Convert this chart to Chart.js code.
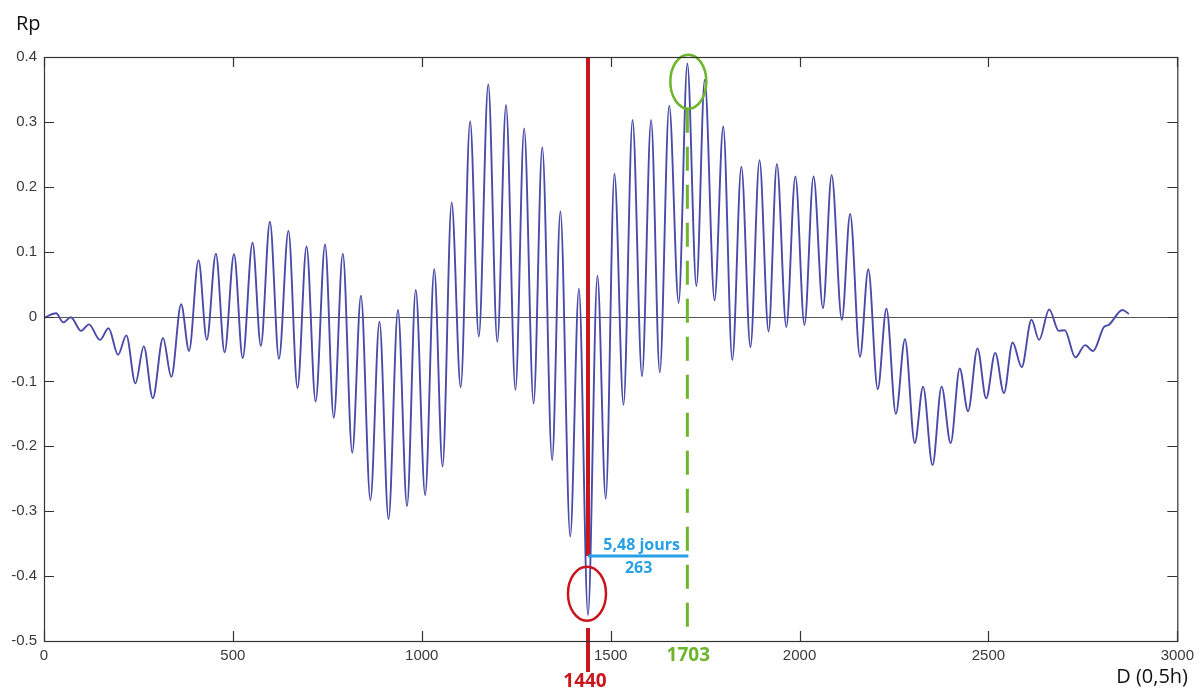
<!DOCTYPE html>
<html>
<head>
<meta charset="utf-8">
<script src="https://cdn.jsdelivr.net/npm/chart.js@4.4.0/dist/chart.umd.min.js"></script>
<style>
  html, body { margin: 0; padding: 0; background: #fff; }
  #wrap { width: 1200px; height: 693px; position: relative; }
</style>
</head>
<body>
<div id="wrap"><canvas id="rpChart" width="1200" height="693"></canvas></div>
<script>
// extrema of Rp (D in 0,5h steps)
const dIndex = [
  0, 32, 51, 71, 98, 119, 148, 171, 196, 218, 242, 264, 288, 315, 337, 363, 384,
  409, 431, 455, 478, 503, 526, 552, 574, 598, 622, 647, 671, 695, 719, 744, 767,
  791, 816, 839, 864, 888, 912, 937, 961, 984, 1009, 1033, 1055, 1079, 1103, 1128,
  1151, 1176, 1200, 1223, 1248, 1271, 1296, 1319, 1345, 1367, 1393, 1416, 1440,
  1465, 1487, 1510, 1534, 1558, 1583, 1607, 1630, 1655, 1680, 1703, 1727, 1749,
  1775, 1798, 1822, 1846, 1870, 1894, 1918, 1940, 1965, 1989, 2013, 2037, 2062,
  2085, 2112, 2134, 2160, 2182, 2207, 2230, 2255, 2279, 2305, 2327, 2352, 2376,
  2400, 2424, 2446, 2471, 2494, 2518, 2541, 2564, 2588, 2614, 2634, 2661, 2686,
  2702, 2730, 2756, 2777, 2806, 2818, 2855, 2872
];
const rpValues = [
  -0.002, 0.005, -0.009, -0.001, -0.022, -0.012, -0.036, -0.018, -0.059, -0.029, -0.103, -0.046, -0.126, -0.033, -0.093, 0.019, -0.053,
  0.087, -0.036, 0.097, -0.055, 0.096, -0.064, 0.114, -0.045, 0.146, -0.065, 0.132, -0.110, 0.108, -0.131, 0.111, -0.156,
  0.097, -0.210, 0.032, -0.283, -0.008, -0.312, 0.010, -0.292, 0.041, -0.275, 0.073, -0.231, 0.176, -0.109, 0.301,
  -0.031, 0.358, -0.039, 0.326, -0.113, 0.290, -0.134, 0.261, -0.221, 0.162, -0.339, 0.043, -0.460,
  0.063, -0.281, 0.220, -0.136, 0.303, -0.092, 0.303, -0.086, 0.325, 0.021, 0.390, 0.047, 0.365,
  0.025, 0.293, -0.067, 0.231, -0.047, 0.241, -0.023, 0.235, -0.016, 0.216, -0.013, 0.216, 0.013,
  0.218, -0.005, 0.158, -0.062, 0.073, -0.112, 0.012, -0.150, -0.035, -0.195, -0.108, -0.229, -0.108,
  -0.195, -0.080, -0.146, -0.049, -0.126, -0.056, -0.118, -0.040, -0.078, -0.005, -0.036, 0.011, -0.022,
  -0.021, -0.063, -0.044, -0.053, -0.016, -0.013, 0.010, 0.004
];
const xTicks = [0, 500, 1000, 1500, 2000, 2500, 3000];
const yTicks = [0.4, 0.3, 0.2, 0.1, 0, -0.1, -0.2, -0.3, -0.4, -0.5];

// marked points
const minD = 1440;
const maxD = 1703;
const gapLevel = -0.369;
const gapText = '5,48 jours';
const gapCount = '263';

const points = dIndex.map((d, i) => ({ x: d, y: rpValues[i] }));

// frame, inward ticks and zero line, matlab style
const framePlugin = {
  id: 'frame',
  beforeDatasetsDraw(chart) {
    const { ctx, chartArea: a, scales: { y } } = chart;
    ctx.save();
    ctx.strokeStyle = '#555';
    ctx.lineWidth = 1;
    const y0 = Math.round(y.getPixelForValue(0)) + 0.5;
    ctx.beginPath();
    ctx.moveTo(a.left, y0);
    ctx.lineTo(a.right, y0);
    ctx.stroke();
    ctx.restore();
  },
  afterDraw(chart) {
    const { ctx, chartArea: a, scales: { x, y } } = chart;
    ctx.save();
    ctx.strokeStyle = '#333';
    ctx.lineWidth = 1.2;
    ctx.strokeRect(a.left + 0.5, a.top + 0.5, a.right - a.left, a.bottom - a.top);
    ctx.beginPath();
    xTicks.forEach(v => {
      const px = Math.round(x.getPixelForValue(v)) + 0.5;
      ctx.moveTo(px, a.bottom); ctx.lineTo(px, a.bottom - 10);
      ctx.moveTo(px, a.top); ctx.lineTo(px, a.top + 10);
    });
    yTicks.forEach(v => {
      const py = Math.round(y.getPixelForValue(v)) + 0.5;
      ctx.moveTo(a.left, py); ctx.lineTo(a.left + 10, py);
      ctx.moveTo(a.right, py); ctx.lineTo(a.right - 10, py);
    });
    ctx.stroke();

    // axis names
    ctx.fillStyle = '#111';
    ctx.font = '20px "Open Sans"';
    ctx.textAlign = 'left';
    ctx.textBaseline = 'middle';
    ctx.fillText('Rp', 16, 24);
    ctx.textAlign = 'right';
    ctx.fillText('D (0,5h)', 1188, 677);
    ctx.restore();
  }
};

// red / green markers and the 263 gap
const markPlugin = {
  id: 'marks',
  afterDatasetsDraw(chart) {
    const { ctx, chartArea: a, scales: { x, y } } = chart;
    const xr = x.getPixelForValue(minD);
    const xg = x.getPixelForValue(maxD);
    const yGap = y.getPixelForValue(gapLevel);
    const yMin = y.getPixelForValue(-0.427);
    const yMax = y.getPixelForValue(0.362);
    ctx.save();

    // red line
    ctx.strokeStyle = '#c8161d';
    ctx.lineWidth = 4;
    ctx.beginPath();
    ctx.moveTo(xr, a.top);
    ctx.lineTo(xr, yGap);
    ctx.moveTo(xr, a.bottom - 13);
    ctx.lineTo(xr, a.bottom + 31);
    ctx.stroke();

    // green dashed line
    ctx.strokeStyle = '#6cb52d';
    ctx.lineWidth = 3;
    ctx.setLineDash([24, 14]);
    ctx.beginPath();
    ctx.moveTo(xg, yMax + 27);
    ctx.lineTo(xg, a.bottom);
    ctx.stroke();
    ctx.setLineDash([]);

    // ellipses
    ctx.lineWidth = 2.5;
    ctx.strokeStyle = '#6cb52d';
    ctx.beginPath();
    ctx.ellipse(xg + 1, yMax, 18, 27, 0, 0, Math.PI * 2);
    ctx.stroke();
    ctx.strokeStyle = '#c8161d';
    ctx.beginPath();
    ctx.ellipse(xr - 1, yMin, 19, 27, 0, 0, Math.PI * 2);
    ctx.stroke();

    // blue gap line
    ctx.strokeStyle = '#27a0e5';
    ctx.lineWidth = 3;
    ctx.beginPath();
    ctx.moveTo(xr, yGap);
    ctx.lineTo(xg + 1, yGap);
    ctx.stroke();

    ctx.fillStyle = '#27a0e5';
    ctx.font = 'bold 16px "Open Sans"';
    ctx.textAlign = 'center';
    ctx.textBaseline = 'middle';
    ctx.fillText(gapText, (xr + xg) / 2 + 4, yGap - 11);
    ctx.fillText(gapCount, (xr + xg) / 2 + 1, yGap + 12);

    ctx.font = 'bold 19px "Open Sans"';
    ctx.fillStyle = '#c8161d';
    ctx.fillText(String(minD), xr - 3, a.bottom + 41);
    ctx.fillStyle = '#6cb52d';
    ctx.fillText(String(maxD), xg + 1, a.bottom + 15);
    ctx.restore();
  }
};

new Chart(document.getElementById('rpChart').getContext('2d'), {
  type: 'line',
  data: {
    datasets: [{
      data: points,
      borderColor: '#4a4aa8',
      borderWidth: 1.9,
      pointRadius: 0,
      cubicInterpolationMode: 'monotone',
      fill: false
    }]
  },
  options: {
    responsive: false,
    animation: false,
    layout: { padding: { top: 57, right: 18, left: 0, bottom: 0 } },
    plugins: { legend: { display: false }, tooltip: { enabled: false } },
    scales: {
      x: {
        type: 'linear',
        min: 0,
        max: 3000,
        afterFit(scale) { scale.height = 52; },
        afterBuildTicks(scale) { scale.ticks = xTicks.map(v => ({ value: v })); },
        grid: { display: false, drawTicks: false },
        border: { display: false },
        ticks: {
          color: '#3a3a3a',
          font: { family: 'Liberation Sans', size: 15 },
          padding: 6,
          maxRotation: 0,
          callback: v => String(v)
        }
      },
      y: {
        min: -0.5,
        max: 0.4,
        afterFit(scale) { scale.width = 44; },
        afterBuildTicks(scale) { scale.ticks = yTicks.map(v => ({ value: v })); },
        grid: { display: false, drawTicks: false },
        border: { display: false },
        ticks: {
          color: '#3a3a3a',
          font: { family: 'Liberation Sans', size: 15 },
          padding: 7,
          callback: v => (Math.abs(v) < 1e-9 ? '0' : String(+v.toFixed(1)))
        }
      }
    }
  },
  plugins: [framePlugin, markPlugin]
});
</script>
</body>
</html>
